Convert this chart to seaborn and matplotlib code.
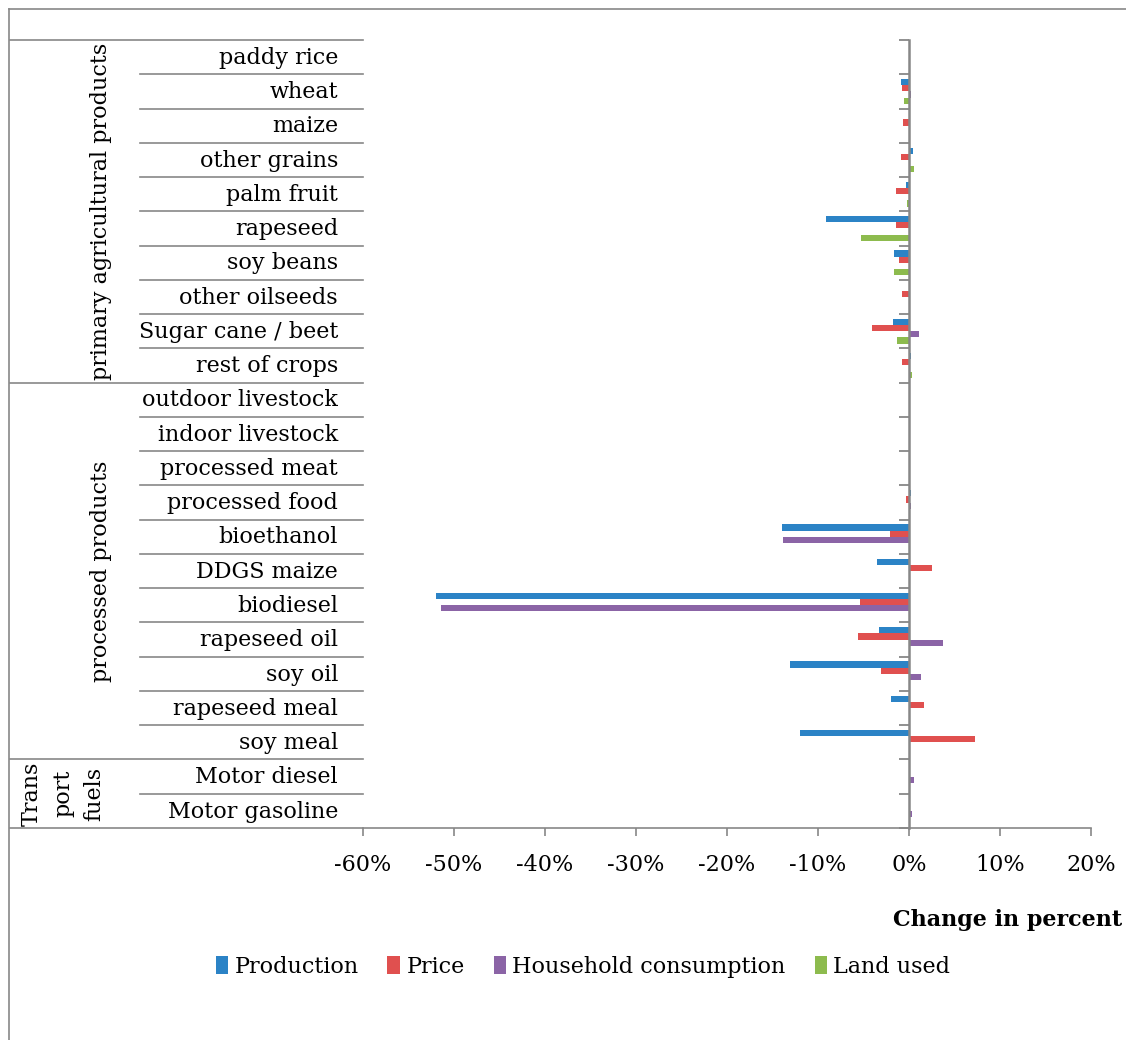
"""
plot.py
Perubahan (persen) produksi, harga, konsumsi rumah tangga dan lahan
per komoditas, dalam bentuk grouped horizontal bar chart.
"""

import pandas as pd
import matplotlib
matplotlib.use('Agg')
import matplotlib.pyplot as plt
import matplotlib.transforms as mtransforms
from matplotlib.lines import Line2D
from matplotlib.patches import Patch
from matplotlib.ticker import FuncFormatter
import seaborn as sns

# ── Data ──
CATEGORIES = [
    'paddy rice', 'wheat', 'maize', 'other grains', 'palm fruit', 'rapeseed',
    'soy beans', 'other oilseeds', 'Sugar cane / beet', 'rest of crops',
    'outdoor livestock', 'indoor livestock', 'processed meat', 'processed food',
    'bioethanol', 'DDGS maize', 'biodiesel', 'rapeseed oil', 'soy oil',
    'rapeseed meal', 'soy meal', 'Motor diesel', 'Motor gasoline',
]
PRODUCTION = [0.0, -0.85, 0.05, 0.4, -0.3, -9.1, -1.7, 0.0, -1.8, 0.25,
              0.0, -0.05, 0.0, 0.2, -13.95, -3.55, -52.0, -3.3, -13.1,
              -2.0, -11.95, -0.05, 0.0]
PRICE = [0.0, -0.8, -0.7, -0.85, -1.4, -1.4, -1.1, -0.8, -4.1, -0.75,
         0.0, 0.0, 0.0, -0.3, -2.1, 2.5, -5.4, -5.6, -3.05,
         1.65, 7.25, 0.0, 0.0]
HOUSEHOLD = [0.0, 0.2, 0.0, 0.0, 0.0, 0.0, 0.0, 0.0, 1.05, 0.0,
             0.0, 0.0, 0.0, 0.2, -13.85, 0.0, -51.4, 3.75, 1.3,
             0.0, 0.0, 0.5, 0.35]
LAND = [0.1, -0.55, 0.0, 0.5, -0.25, -5.3, -1.65, 0.0, -1.3, 0.35,
        0.0, 0.0, 0.0, 0.0, 0.0, 0.0, 0.0, 0.0, 0.0,
        0.0, 0.0, 0.0, 0.0]
SERIES = ['Production', 'Price', 'Household consumption', 'Land used']
COLORS = ['#2B83C6', '#E0504F', '#8B64A6', '#8DBB4E']
GROUPS = [
    ('primary agricultural products', 0, 10),
    ('processed products', 10, 21),
    ('Trans\nport\nfuels', 21, 23),
]
XTICKS = [-60, -50, -40, -30, -20, -10, 0, 10, 20]

GRAY = '#878787'
FONT = 16

df = pd.DataFrame({
    'category': CATEGORIES * 4,
    'series': [s for s in SERIES for _ in CATEGORIES],
    'value': PRODUCTION + PRICE + HOUSEHOLD + LAND,
})

# ── Figure ──
plt.rcParams['font.family'] = ['DejaVu Serif']
plt.rcParams['font.size'] = FONT

W, H = 1126, 1040
fig = plt.figure(figsize=(W / 100, H / 100), dpi=100)
x0, x1, y0, y1 = 363, 1091, 40, 828
ax = fig.add_axes([x0 / W, 1 - y1 / H, (x1 - x0) / W, (y1 - y0) / H])

sns.barplot(data=df, y='category', x='value', hue='series', order=CATEGORIES,
            hue_order=SERIES, palette=COLORS, orient='h', width=0.72,
            saturation=1, errorbar=None, legend=False, ax=ax)

n = len(CATEGORIES)
ax.set_xlim(XTICKS[0], XTICKS[-1])
ax.set_ylim(n - 0.5, -0.5)
ax.set_xlabel('')
ax.set_ylabel('')

# sumbu y di posisi 0, tick di batas kategori
for side in ['top', 'right']:
    ax.spines[side].set_visible(False)
ax.spines['left'].set_position(('data', 0))
ax.spines['left'].set_color(GRAY)
ax.spines['left'].set_linewidth(1.8)
ax.spines['left'].set_zorder(5)
ax.spines['bottom'].set_color(GRAY)
ax.spines['bottom'].set_linewidth(1.2)
ax.set_yticks([i - 0.5 for i in range(n + 1)])
ax.set_yticklabels([])
ax.tick_params(axis='y', direction='out', length=7, width=1.3, color=GRAY)

ax.set_xticks(XTICKS)
ax.xaxis.set_major_formatter(FuncFormatter(lambda v, p: f'{v:.0f}%'))
ax.tick_params(axis='x', direction='out', length=6, width=1.2, color=GRAY,
               pad=13, labelsize=FONT)

# ── Tabel label kategori di kiri ──
trans = mtransforms.blended_transform_factory(ax.transAxes, ax.transData)
ax_w = x1 - x0
x_inner = (140 - x0) / ax_w
x_outer = (10 - x0) / ax_w
x_text = (338 - x0) / ax_w
line_kw = dict(color=GRAY, lw=1.2, transform=trans, clip_on=False)

for i, cat in enumerate(CATEGORIES):
    ax.text(x_text, i + 0.02, cat, ha='right', va='center', transform=trans,
            fontsize=FONT)

group_starts = [g[1] for g in GROUPS]
for b in range(n):
    xs = x_outer if b in group_starts else x_inner
    ax.plot([xs, 0], [b - 0.5, b - 0.5], **line_kw)
ax.plot([x_outer, 0], [n - 0.5, n - 0.5], **line_kw)

for label, start, end in GROUPS:
    mid = (start + end - 1) / 2
    if '\n' in label:
        ax.text((63 - x0) / ax_w, mid, label, rotation=90, ha='center',
                va='center', multialignment='center', transform=trans,
                fontsize=FONT, linespacing=1.55)
    else:
        ax.text((101 - x0) / ax_w, mid, label, rotation=90, ha='center',
                va='center', transform=trans, fontsize=FONT)

# ── Judul sumbu & legenda ──
fig.text(1122 / W, 1 - 920 / H, 'Change in percent', ha='right', va='center',
         fontsize=FONT, fontweight='bold')

handles = [Patch(facecolor=c, edgecolor='none') for c in COLORS]
fig.legend(handles, SERIES, loc='center', bbox_to_anchor=(583 / W, 1 - 967 / H),
           ncol=4, frameon=False, handlelength=0.55, handleheight=0.85,
           handletextpad=0.3, columnspacing=1.3, fontsize=FONT)

# ── Bingkai luar ──
fig.add_artist(Line2D([9 / W, 1], [1 - 9 / H, 1 - 9 / H], color=GRAY, lw=1.2,
                      transform=fig.transFigure))
fig.add_artist(Line2D([9 / W, 9 / W], [0, 1 - 9 / H], color=GRAY, lw=1.2,
                      transform=fig.transFigure))

fig.savefig('out.png', dpi=100)
plt.close(fig)
